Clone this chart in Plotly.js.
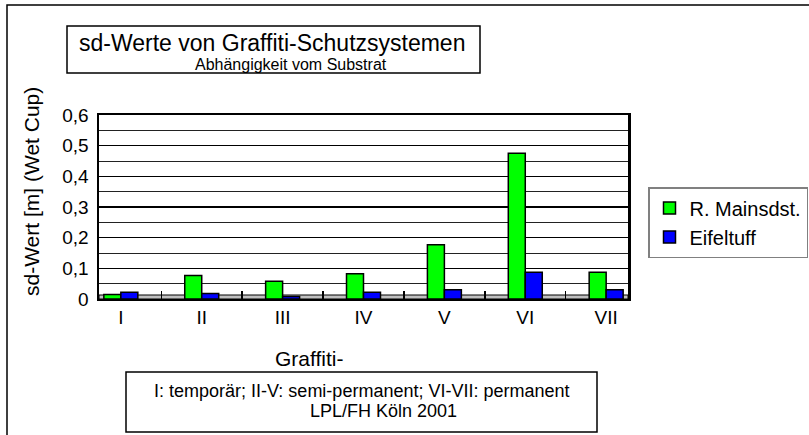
<!DOCTYPE html>
<html>
<head>
<meta charset="utf-8">
<script src="https://cdn.plot.ly/plotly-3.0.1.min.js"></script>
<style>
html,body{margin:0;padding:0;background:#fff;}
#chart{width:809px;height:435px;}
</style>
</head>
<body>
<div id="chart"></div>
<script>
// ---- data ----
const categories = ["I", "II", "III", "IV", "V", "VI", "VII"];
const mainsandstein = [0.015, 0.077, 0.058, 0.082, 0.177, 0.475, 0.087];
const eifeltuff = [0.022, 0.018, 0.008, 0.022, 0.030, 0.087, 0.030];
const seriesNames = ["R. Mainsdst.", "Eifeltuff"];
const yTickVals = [0, 0.1, 0.2, 0.3, 0.4, 0.5, 0.6];
const yTickText = ["0", "0,1", "0,2", "0,3", "0,4", "0,5", "0,6"];

// ---- layout helpers (pixel -> paper) ----
const W = 809, H = 435;
const M = {l: 99, r: 181, t: 115, b: 136};
const pw = W - M.l - M.r, ph = H - M.t - M.b;
const px = x => (x - M.l) / pw;
const py = y => (H - M.b - y) / ph;
const FONT = "Liberation Sans, Arial, sans-serif";

const traces = [
  {type: "bar", name: seriesNames[0], x: categories, y: mainsandstein,
   marker: {color: "#00ff00", line: {color: "#000", width: 1.5}}},
  {type: "bar", name: seriesNames[1], x: categories, y: eifeltuff,
   marker: {color: "#0000ff", line: {color: "#000", width: 1.5}}}
];

function note(text, x, y, size, angle) {
  return {text: text, xref: "paper", yref: "paper", x: px(x), y: py(y), textangle: angle || 0,
          xanchor: "center", yanchor: "middle", showarrow: false, font: {size: size}};
}

const layout = {
  width: W, height: H,
  margin: {l: M.l, r: M.r, t: M.t, b: M.b, pad: 0, autoexpand: false},
  paper_bgcolor: "#fff", plot_bgcolor: "#fff",
  font: {family: FONT, color: "#000", size: 18},
  barmode: "group", bargap: 0.58, bargroupgap: 0,
  showlegend: true,
  legend: {x: px(648), y: py(187), xanchor: "left", yanchor: "top",
           bordercolor: "#808080", borderwidth: 1.5, bgcolor: "#fff",
           font: {size: 20, family: FONT}, tracegroupgap: 0, itemwidth: 30},
  xaxis: {type: "category", range: [-0.27, 6.27], showline: true, linecolor: "#000", linewidth: 2,
          mirror: true, ticks: "inside", tickson: "boundaries", ticklen: 8, tickcolor: "#000",
          tickwidth: 1.5, showgrid: false, tickfont: {size: 19}, fixedrange: true, automargin: false},
  yaxis: {range: [0, 0.6], tickvals: yTickVals, ticktext: yTickText, showline: true,
          linecolor: "#000", linewidth: 2.5, mirror: true, ticks: "inside", ticklen: 9,
          tickcolor: "#000", tickwidth: 1.5, showgrid: true, gridcolor: "#000", gridwidth: 1.5,
          zeroline: false, tickfont: {size: 19}, ticklabelstandoff: 4, automargin: false,
          minor: {dtick: 0.05, showgrid: true, gridcolor: "#222", gridwidth: 1, ticks: ""},
          fixedrange: true},
  shapes: [
    // outer frame
    {type: "rect", xref: "paper", yref: "paper", x0: px(7), x1: px(815), y0: py(445), y1: py(5),
     line: {color: "#000", width: 1.5}, fillcolor: "rgba(0,0,0,0)", layer: "below"},
    // floor strip
    {type: "rect", xref: "paper", yref: "paper", x0: 0, x1: 1, y0: 0, y1: py(295),
     line: {color: "#000", width: 1}, fillcolor: "#c0c0c0", layer: "below"},
    // title box
    {type: "rect", xref: "paper", yref: "paper", x0: px(67), x1: px(480), y0: py(73), y1: py(26),
     line: {color: "#000", width: 1.5}, fillcolor: "#fff"},
    // note box
    {type: "rect", xref: "paper", yref: "paper", x0: px(126), x1: px(597), y0: py(432), y1: py(372),
     line: {color: "#000", width: 1.5}, fillcolor: "#fff"}
  ],
  annotations: [
    note("sd-Werte von Graffiti-Schutzsystemen", 272, 43, 23),
    note("Abhängigkeit vom Substrat", 291, 64, 16),
    note("sd-Wert [m] (Wet Cup)", 31, 192, 21, -90),
    note("Graffiti-", 309, 358, 21),
    note("I: temporär; II-V: semi-permanent; VI-VII: permanent", 362, 391, 18),
    note("LPL/FH Köln 2001", 383, 411, 18)
  ]
};

Plotly.newPlot("chart", traces, layout, {displayModeBar: false, staticPlot: true});
</script>
</body>
</html>
